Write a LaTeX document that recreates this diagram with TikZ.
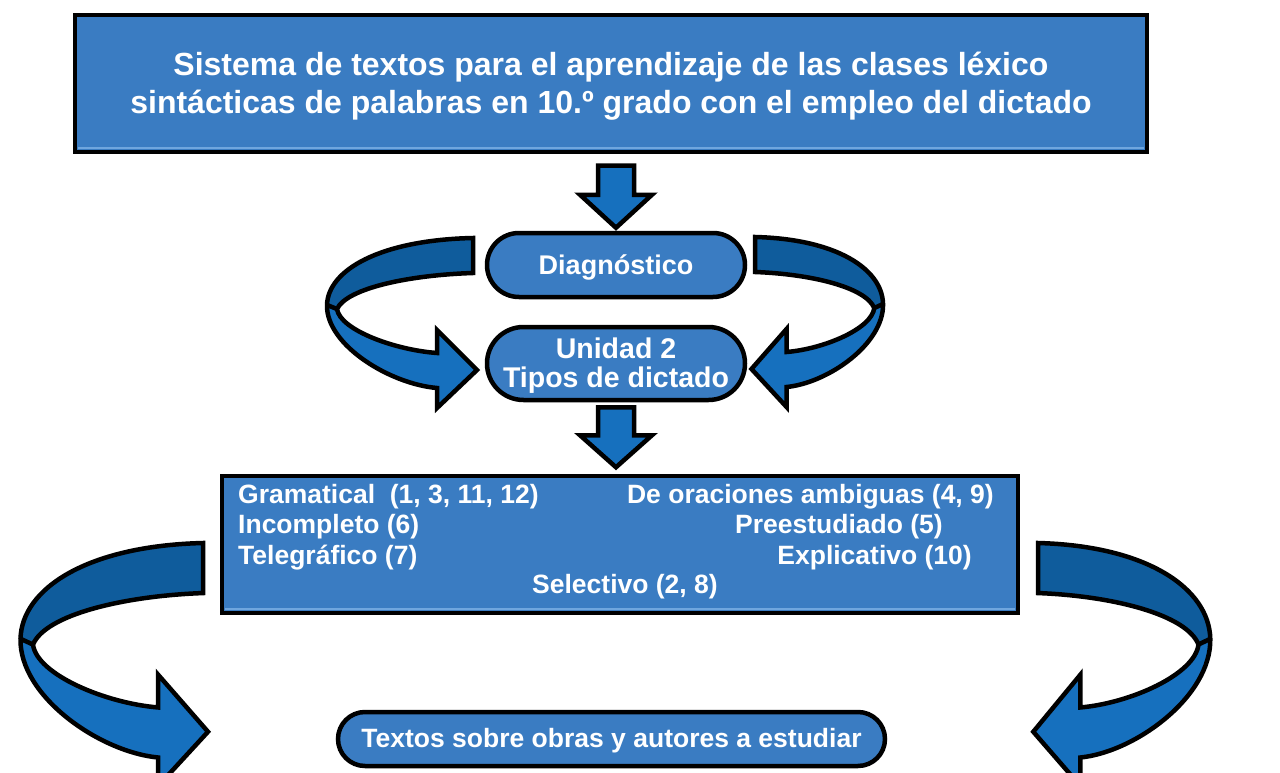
\documentclass[tikz,border=0pt]{standalone}
\usepackage{fontspec}
\setmainfont{Liberation Sans}
\usetikzlibrary{calc,shapes.misc}
\definecolor{boxblue}{HTML}{3A7CC2}
\definecolor{bevelblue}{HTML}{6FA6DE}
\definecolor{bandlight}{HTML}{1670BE}
\definecolor{banddark}{HTML}{0F5C9C}
\tikzset{
  outline/.style={draw=black, line width=4.5pt, line join=miter},
  rectbox/.style={outline, fill=boxblue, inner sep=0pt},
  pillbox/.style={outline, fill=boxblue, rounded rectangle, inner sep=0pt},
  bevel/.style={draw=bevelblue, line width=2pt},
  titletext/.style={text=white, font=\bfseries\fontsize{32}{38}\selectfont, align=center},
  pilltext/.style={text=white, font=\bfseries\fontsize{27}{29}\selectfont, align=center},
  midtext/.style={text=white, font=\bfseries\fontsize{26.5}{30}\selectfont, inner sep=0pt},
  blockarrow/.style={outline, fill=bandlight}
}
\newcommand\ribbonpath{(0,0) .. controls (-93,2) and (-145,32) .. (-146,67)
  .. controls (-147,107) and (-83,146) .. (-36,150) -- (-36,170) -- (4,132)
  -- (-36,92) -- (-36,115) .. controls (-78,112) and (-133,92) .. (-136,71)
  .. controls (-126,50) and (-63,37) .. (0,35) -- cycle}
\newcommand\ribbonarrow{%
  \fill[bandlight] \ribbonpath;
  \fill[banddark] (0,0) .. controls (-93,2) and (-145,32) .. (-146,67) -- (-136,71)
    .. controls (-126,50) and (-63,37) .. (0,35) -- cycle;
  \draw[outline] \ribbonpath;
  \draw[outline] (-146,67) -- (-136,71);
}
\begin{document}
\begin{tikzpicture}[x=1pt,y=-1pt]
\useasboundingbox (0,0) rectangle (1280,773);
\clip (0,0) rectangle (1280,773);

% boxes
\node[rectbox, minimum width=1072pt, minimum height=137pt] (title) at (611,83.5) {};
\draw[bevel] ($(title.south west)+(5,-6)$) -- ($(title.south east)+(-5,-6)$);
\node[titletext] (titlet) at (611,86) {Sistema de textos para el aprendizaje de las clases léxico\\sintácticas de palabras en 10.º grado con el empleo del dictado};

\node[pillbox, minimum width=258pt, minimum height=64pt] (diag) at (616,265) {};
\node[pilltext] (diagt) at (616,267) {Diagnóstico};

\node[pillbox, minimum width=258pt, minimum height=73pt] (unit) at (616,363.5) {};
\node[pilltext, font=\bfseries\fontsize{28.5}{29}\selectfont] (unitt) at (616,366) {Unidad 2\\Tipos de dictado};

\node[rectbox, minimum width=796pt, minimum height=137pt] (mid) at (620,544.5) {};
\draw[bevel] ($(mid.south west)+(5,-6)$) -- ($(mid.south east)+(-5,-6)$);
\node[midtext, anchor=mid west] (g1) at (238,501) {Gramatical\ \ (1, 3, 11, 12)};
\node[midtext, anchor=mid east] (g2) at (994,501) {De oraciones ambiguas (4, 9)};
\node[midtext, anchor=mid west] (g3) at (238,531) {Incompleto (6)};
\node[midtext, anchor=mid east] (g4) at (943,531) {Preestudiado (5)};
\node[midtext, anchor=mid west] (g5) at (238,562) {Telegráfico (7)};
\node[midtext, anchor=mid east] (g6) at (972,562) {Explicativo (10)};
\node[midtext, anchor=mid] (g7) at (625,591) {Selectivo (2, 8)};

\node[pillbox, minimum width=547pt, minimum height=54pt] (texts) at (611.5,739) {};
\node[pilltext, font=\bfseries\fontsize{26.5}{28}\selectfont] (textst) at (611.5,741) {Textos sobre obras y autores a estudiar};

% straight block arrows
\draw[blockarrow] ($(diag.north)+(0,-3)$) -- ($(diag.north)+(36,-36)$) -- ($(diag.north)+(18,-36)$)
  -- ($(diag.north)+(18,-65)$) -- ($(diag.north)+(-18,-65)$) -- ($(diag.north)+(-18,-36)$)
  -- ($(diag.north)+(-36,-36)$) -- cycle;
\draw[blockarrow] ($(unit.south)+(0,65)$) -- ($(unit.south)+(36,33)$) -- ($(unit.south)+(18,33)$)
  -- ($(unit.south)+(18,5)$) -- ($(unit.south)+(-18,5)$) -- ($(unit.south)+(-18,33)$)
  -- ($(unit.south)+(-36,33)$) -- cycle;

% curved ribbon arrows
\begin{scope}[shift={(473,238)}]\ribbonarrow\end{scope}
\begin{scope}[shift={(755,237)}, xscale=-0.877]\ribbonarrow\end{scope}
\begin{scope}[shift={(203,543)}, xscale=1.25, yscale=1.43]\ribbonarrow\end{scope}
\begin{scope}[shift={(1038,543)}, xscale=-1.18, yscale=1.43]\ribbonarrow\end{scope}
\end{tikzpicture}
\end{document}
